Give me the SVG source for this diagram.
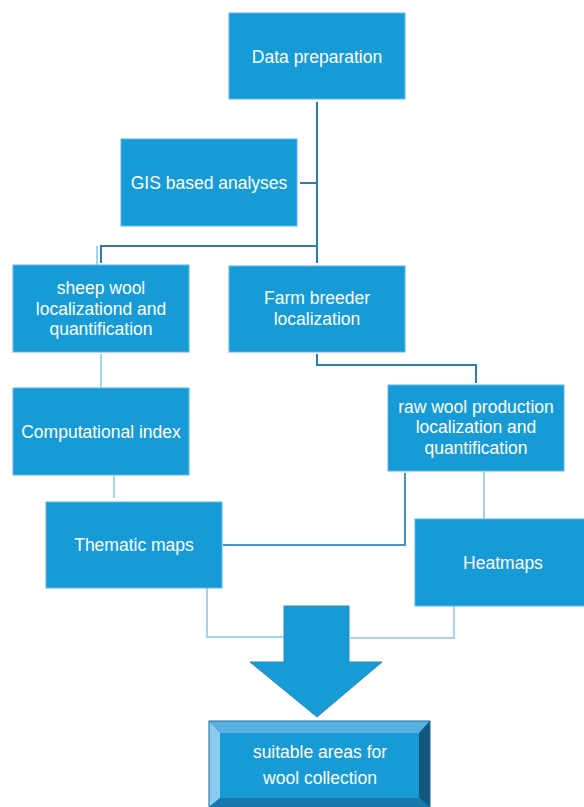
<svg xmlns="http://www.w3.org/2000/svg" width="584" height="807" viewBox="0 0 584 807">
<style>
.box{fill:#179bd7;stroke:#5db6e6;stroke-width:1}
.t{font-family:"Liberation Sans",Arial,sans-serif;font-size:17.5px;fill:#ffffff;text-anchor:middle}
.dk{fill:none;stroke:#2b7db3;stroke-width:2}
.md{fill:none;stroke:#3f93cb;stroke-width:2}
.lt{fill:none;stroke:#86c5ea;stroke-width:1.5}
</style>
<rect width="584" height="807" fill="#ffffff"/>
<g id="connectors">
<path class="dk" d="M317,102 V263"/>
<path class="dk" d="M300,183 H317"/>
<path class="dk" d="M317,246 H101 V263"/>
<path class="lt" d="M97,246 V265"/>
<path class="dk" d="M317,354 V365 H476 V383"/>
<path class="lt" d="M101,354 V388"/>
<path class="lt" d="M114,476 V498"/>
<path class="md" d="M405,473 V545 H223"/>
<path class="lt" d="M484,472 V519"/>
<path class="lt" d="M207,588 V637 H284"/>
<path class="lt" d="M454,606 V638 H350"/>
</g>
<g id="data-preparation">
<rect class="box" x="229" y="13" width="176" height="86"/>
<text class="t" x="317" y="63">Data preparation</text>
</g>
<g id="gis-analyses">
<rect class="box" x="121" y="139" width="176" height="87"/>
<text class="t" x="209" y="189">GIS based analyses</text>
</g>
<g id="sheep-wool">
<rect class="box" x="13" y="265" width="176" height="87"/>
<text class="t" x="101" y="294">sheep wool</text>
<text class="t" x="101" y="315">localizationd and</text>
<text class="t" x="101" y="335">quantification</text>
</g>
<g id="farm-breeder">
<rect class="box" x="229" y="266" width="176" height="86"/>
<text class="t" x="317" y="304">Farm breeder</text>
<text class="t" x="317" y="325">localization</text>
</g>
<g id="raw-wool">
<rect class="box" x="388" y="385" width="176" height="86"/>
<text class="t" x="476" y="413">raw wool production</text>
<text class="t" x="476" y="433">localization and</text>
<text class="t" x="476" y="454">quantification</text>
</g>
<g id="computational-index">
<rect class="box" x="13" y="388" width="176" height="87"/>
<text class="t" x="101" y="438">Computational index</text>
</g>
<g id="thematic-maps">
<rect class="box" x="46" y="502" width="176" height="86"/>
<text class="t" x="134" y="551">Thematic maps</text>
</g>
<g id="heatmaps">
<rect class="box" x="415" y="519" width="175" height="87"/>
<text class="t" x="503" y="569">Heatmaps</text>
</g>
<g id="arrow">
<polygon points="284,606 349,606 349,662 382,662 317,717 250,662 284,662" fill="#179bd7" stroke="#2a8ac4" stroke-width="1"/>
</g>
<g id="suitable-areas">
<rect x="209" y="721" width="221" height="86" fill="#179bd7"/>
<polygon points="209,721 430,721 419,733 220,733" fill="#5aaee0"/>
<polygon points="209,721 220,733 220,798 209,807" fill="#8ccbee"/>
<polygon points="430,721 430,807 419,798 419,733" fill="#13577e"/>
<polygon points="209,807 220,798 419,798 430,807" fill="#1878ad"/>
<rect x="209" y="721" width="221" height="86" fill="none" stroke="#1a6d9c" stroke-width="1"/>
<text class="t" x="320" y="758">suitable areas for</text>
<text class="t" x="320" y="784">wool collection</text>
</g>
</svg>
